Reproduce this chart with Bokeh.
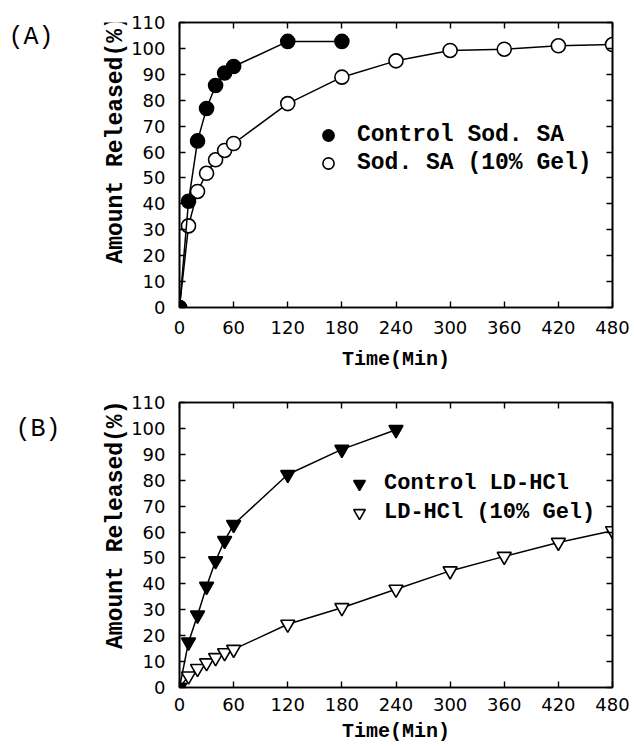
import math
from bokeh.plotting import figure
from bokeh.models import Range1d, FixedTicker, LinearAxis, Legend, LegendItem
from bokeh.layouts import column, row
from bokeh.core.properties import value
from bokeh.embed import file_html
from bokeh.resources import INLINE

# ---- data ----
t_a_ctrl = [0, 10, 20, 30, 40, 50, 60, 120, 180]
a_ctrl = [0, 41, 64.3, 76.8, 85.7, 90.5, 93.0, 102.7, 102.7]
t_a_gel = [0, 10, 20, 30, 40, 50, 60, 120, 180, 240, 300, 360, 420, 480]
a_gel = [0, 31.5, 44.8, 51.8, 57.0, 60.6, 63.3, 78.7, 88.9, 95.2, 99.2, 99.7, 101.0, 101.5]

t_b_ctrl = [0, 10, 20, 30, 40, 50, 60, 120, 180, 240]
b_ctrl = [0, 17.5, 27.9, 39.0, 48.9, 56.7, 62.9, 82.2, 91.9, 99.5]
t_b_gel = [0, 10, 20, 30, 40, 50, 60, 120, 180, 240, 300, 360, 420, 480]
b_gel = [0, 4.4, 7.3, 9.5, 11.5, 13.4, 14.7, 24.4, 30.8, 37.9, 45.0, 50.6, 56.0, 60.5]

x_ticks = [0, 60, 120, 180, 240, 300, 360, 420, 480]
y_ticks = [0, 10, 20, 30, 40, 50, 60, 70, 80, 90, 100, 110]

y_title = "Amount Released(%)"
x_title = "Time(Min)"

MONO = "Liberation Mono"
SANS = "DejaVu Sans"
LABEL_W = 128


def side_panel(letter, lx, ly, ty, height):
    # panel letter and the rotated y-axis title, left of the plot
    q = figure(width=LABEL_W, height=height, x_range=Range1d(0, LABEL_W),
               y_range=Range1d(height, 0), output_backend="svg", title=None,
               toolbar_location=None, x_axis_type=None, y_axis_type=None,
               min_border=0, outline_line_color=None)
    q.grid.visible = False
    q.text(x=[lx], y=[ly], text=[letter], text_font=value(MONO),
           text_font_size="25px", text_baseline="middle", text_align="left",
           text_color="black")
    q.text(x=[115], y=[ty], text=[y_title], text_font=value(MONO),
           text_font_style="bold", text_font_size="23px", angle=math.pi / 2,
           text_baseline="middle", text_align="center", text_color="black")
    return q


def make_panel(series, legend_loc, top_border, bottom_border, label_size,
               standoff, sep, tick_sf, lab_sf):
    p = figure(frame_width=433, frame_height=285,
               x_range=Range1d(0, 480), y_range=Range1d(0, 110),
               output_backend="svg", toolbar_location=None, title=None,
               min_border_left=179 - LABEL_W, min_border_right=22,
               min_border_top=top_border, min_border_bottom=bottom_border,
               background_fill_color="white", border_fill_color="white")
    p.grid.visible = False
    p.outline_line_color = "black"
    p.outline_line_width = 1.6

    p.xaxis.ticker = FixedTicker(ticks=x_ticks)
    p.yaxis.ticker = FixedTicker(ticks=y_ticks)
    for ax in p.xaxis + p.yaxis:
        ax.axis_line_width = 1.6
        ax.major_tick_in = 6
        ax.major_tick_out = 0
        ax.major_tick_line_width = 1.4
        ax.minor_tick_line_color = None
        ax.major_label_text_font = SANS
        ax.major_label_text_font_size = "18px"
        ax.major_label_text_color = "black"
        ax.axis_label_text_font = MONO
        ax.axis_label_text_font_style = "bold"
        ax.axis_label_text_color = "black"
    p.xaxis.axis_label = x_title
    p.xaxis.axis_label_text_font_size = "20px"
    p.xaxis.major_label_standoff = tick_sf
    p.xaxis.axis_label_standoff = lab_sf
    p.yaxis.major_label_standoff = 14

    for loc, ticks in (("above", x_ticks), ("right", y_ticks)):
        ax = LinearAxis(ticker=FixedTicker(ticks=ticks))
        ax.axis_line_width = 1.6
        ax.major_tick_in = 6
        ax.major_tick_out = 0
        ax.major_tick_line_width = 1.4
        ax.minor_tick_line_color = None
        ax.major_label_overrides = {t: "" for t in ticks}
        ax.major_label_standoff = 0
        p.add_layout(ax, loc)

    items = []
    for (tx, ty, marker, fill, label) in series:
        p.line(tx, ty, line_color="black", line_width=1.5)
        r = p.scatter(tx, ty, marker=marker, size=14, fill_color=fill,
                      line_color="black", line_width=1.6)
        items.append((label, r))
    items = items[::-1]
    leg = Legend(items=[LegendItem(label=l, renderers=[r]) for l, r in items],
                 location=legend_loc, orientation="vertical",
                 background_fill_alpha=0, border_line_color=None,
                 padding=0, margin=0, spacing=0,
                 glyph_width=30, glyph_height=sep, label_height=sep,
                 label_standoff=standoff,
                 label_text_font=MONO, label_text_font_style="bold",
                 label_text_font_size=label_size, label_text_color="black")
    p.add_layout(leg)
    return p


pA = make_panel([(t_a_gel, a_gel, "circle", "white", "Sod. SA (10% Gel)"),
                 (t_a_ctrl, a_ctrl, "circle", "black", "Control Sod. SA")],
                (134, 130), 22, 66, "23px", 14, 28, 13, 11)
pB = make_panel([(t_b_gel, b_gel, "inverted_triangle", "white", "LD-HCl (10% Gel)"),
                 (t_b_ctrl, b_ctrl, "inverted_triangle", "black", "Control LD-HCl")],
                (165, 160), 29, 59, "22px", 10, 29, 10, 6)

lA = side_panel("(A)", 8, 19, 153, 373)
lB = side_panel("(B)", 15, 35, 160, 373)

layout = column(row(lA, pA, spacing=0), row(lB, pB, spacing=0), spacing=0)
open("out.html", "w").write(file_html(layout, INLINE))
